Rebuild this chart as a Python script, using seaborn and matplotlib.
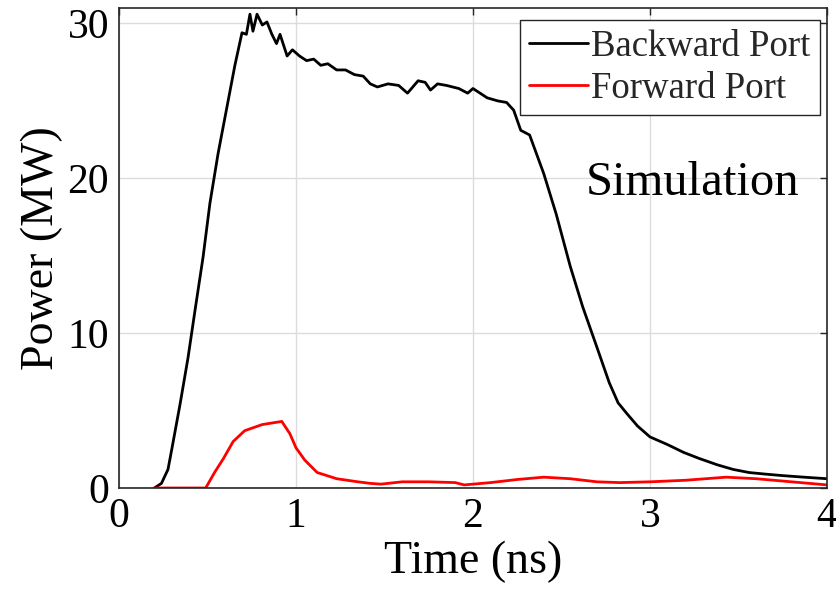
import matplotlib
matplotlib.use('Agg')
import matplotlib.pyplot as plt
import pandas as pd
import seaborn as sns

# Backward port (black)
back_t = [0.20, 0.24, 0.277, 0.30, 0.345, 0.39, 0.43, 0.475, 0.514, 0.56, 0.61, 0.655,
          0.695, 0.72, 0.74, 0.757, 0.78, 0.81, 0.836, 0.864, 0.89, 0.91, 0.95, 0.98,
          1.02, 1.06, 1.10, 1.14, 1.18, 1.23, 1.28, 1.33, 1.38, 1.42, 1.46, 1.52, 1.58,
          1.63, 1.69, 1.73, 1.76, 1.80, 1.85, 1.92, 1.97, 2.00, 2.08, 2.14, 2.19, 2.23,
          2.27, 2.32, 2.40, 2.47, 2.55, 2.62, 2.70, 2.77, 2.82, 2.87, 2.93, 3.00, 3.10,
          3.19, 3.28, 3.38, 3.47, 3.56, 3.65, 3.75, 3.87, 4.00]
back_p = [0.0, 0.3, 1.2, 2.6, 5.4, 8.4, 11.5, 14.9, 18.4, 21.6, 24.6, 27.3,
          29.4, 29.3, 30.6, 29.5, 30.6, 29.9, 30.1, 29.3, 28.7, 29.3, 27.9, 28.3,
          27.9, 27.6, 27.7, 27.3, 27.4, 27.0, 27.0, 26.7, 26.6, 26.1, 25.9, 26.1, 26.0,
          25.5, 26.3, 26.2, 25.7, 26.1, 26.0, 25.8, 25.5, 25.8, 25.2, 25.0, 24.9, 24.4,
          23.1, 22.8, 20.3, 17.7, 14.3, 11.7, 9.1, 6.8, 5.5, 4.8, 4.0, 3.3, 2.8,
          2.3, 1.9, 1.5, 1.2, 1.0, 0.9, 0.8, 0.7, 0.6]

# Forward port (red)
fwd_t = [0.20, 0.49, 0.54, 0.59, 0.645, 0.71, 0.81, 0.92, 0.966, 1.00, 1.05, 1.12,
         1.23, 1.35, 1.42, 1.48, 1.60, 1.75, 1.90, 1.95, 2.10, 2.25, 2.40, 2.55,
         2.70, 2.83, 3.00, 3.20, 3.43, 3.60, 3.80, 4.00]
fwd_p = [0.0, 0.0, 1.0, 1.9, 3.0, 3.7, 4.1, 4.3, 3.5, 2.6, 1.8, 1.0,
         0.6, 0.4, 0.3, 0.25, 0.4, 0.4, 0.35, 0.2, 0.35, 0.55, 0.7, 0.6,
         0.4, 0.35, 0.4, 0.5, 0.7, 0.6, 0.4, 0.2]

x_ticks = [0, 1, 2, 3, 4]
y_ticks = [0, 10, 20, 30]

df = pd.concat([
    pd.DataFrame({'time': back_t, 'power': back_p, 'port': 'Backward Port'}),
    pd.DataFrame({'time': fwd_t, 'power': fwd_p, 'port': 'Forward Port'}),
], ignore_index=True)

sns.set_theme(style='whitegrid')
plt.rcParams['font.family'] = ['Liberation Serif', 'DejaVu Serif']

fig = plt.figure(figsize=(8.36, 6.06), dpi=100)
ax = fig.add_axes([0.1423, 0.1947, 0.8469, 0.7921])

sns.lineplot(data=df, x='time', y='power', hue='port', estimator=None, sort=False,
             palette={'Backward Port': 'black', 'Forward Port': 'red'},
             linewidth=2.0, ax=ax)

ax.set_xlim(0, 4)
ax.set_ylim(0, 31)
ax.set_xticks(x_ticks)
ax.set_yticks(y_ticks)
ax.grid(True, color='#dcdcdc', linewidth=1.0)
ax.set_facecolor('white')
for s in ax.spines.values():
    s.set_color('#262626')
    s.set_linewidth(1.2)
ax.tick_params(direction='in', length=5, width=1, color='#262626',
               top=True, right=True, labelsize=30, pad=7, labelcolor='black')

ax.set_xlabel('Time (ns)', fontsize=33, color='black', labelpad=3)
ax.set_ylabel('Power (MW)', fontsize=33, color='black', labelpad=3)

leg = ax.legend(loc='upper right', bbox_to_anchor=(0.99, 0.975), fontsize=26.5,
                frameon=True, fancybox=False, handlelength=1.6, handletextpad=0.1,
                borderpad=0.25, labelspacing=0.2, borderaxespad=0.0)
leg.get_frame().set_edgecolor('#262626')
leg.get_frame().set_linewidth(1.0)
leg.get_frame().set_alpha(1.0)
for line in leg.get_lines():
    line.set_linewidth(2.0)

ax.text(2.64, 18.9, 'Simulation', fontsize=35, color='black', ha='left', va='baseline')

fig.savefig('out.png', dpi=100)
